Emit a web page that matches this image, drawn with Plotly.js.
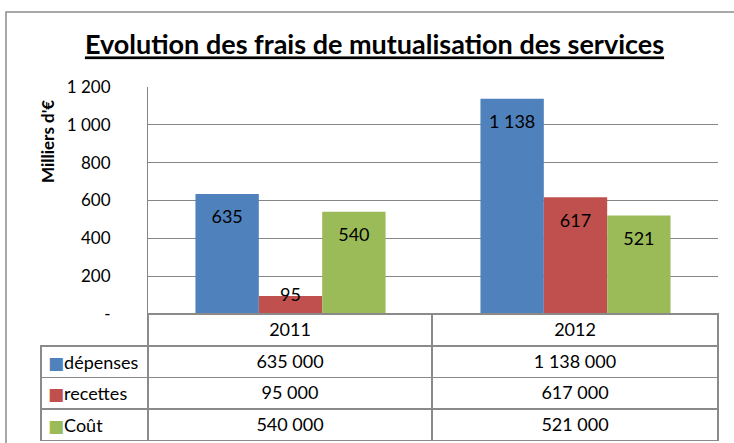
<!DOCTYPE html>
<html>
<head>
<meta charset="utf-8">
<script src="https://cdn.plot.ly/plotly-3.0.1.min.js"></script>
<style>
  html, body { margin: 0; padding: 0; background: #ffffff; }
  #chart { width: 734px; height: 443px; }
</style>
</head>
<body>
<div id="chart"></div>
<script>
// ---- Data (in milliers d'€) ----
const categories = ['2011', '2012'];
const seriesNames = ['dépenses', 'recettes', 'Coût'];
const depenses = [635, 1138];
const recettes = [95, 617];
const cout = [540, 521];
const yTickVals = [0, 200, 400, 600, 800, 1000, 1200];
const yTickText = ['-', '200', '400', '600', '800', '1 000', '1 200'];

// ---- Styling ----
const seriesColors = ['#4F81BD', '#C0504D', '#9BBB59'];
const FONT = 'Lato, "Open Sans", "DejaVu Sans", sans-serif';
const GRID = '#868686';
const BORDER = '#8a8a8a';
const H = 443, W = 734;
const PLOT_TOP = 87, PLOT_BOTTOM = 314, PLOT_LEFT = 148, PLOT_RIGHT = 718;
const TABLE_LEFT = 41, HEADER_H = 32, CELL_H = 31.5;

const seriesValues = [depenses, recettes, cout];

function fmtThousands(v) {
  return String(Math.round(v * 1000)).replace(/\B(?=(\d{3})+(?!\d))/g, ' ');
}

const barTraces = seriesNames.map((name, i) => ({
  type: 'bar',
  name: name,
  x: categories,
  y: seriesValues[i],
  marker: { color: seriesColors[i], line: { width: 0 } },
  hoverinfo: 'skip',
  showlegend: false
}));

// Data labels ("inside end"), aligned with the grouped bars
const labelTraces = seriesNames.map((name, i) => ({
  type: 'scatter',
  mode: 'markers+text',
  name: name + ' labels',
  x: categories,
  y: seriesValues[i],
  text: seriesValues[i],
  texttemplate: '%{y:,}',
  textposition: seriesValues[i].map(v => (v < 150 ? 'middle center' : 'bottom center')),
  textfont: { family: FONT, size: 18, color: '#000000' },
  marker: { size: 24, opacity: 0, color: seriesColors[i] },
  cliponaxis: false,
  hoverinfo: 'skip',
  showlegend: false
}));

// Data table under the chart
const yearCols = categories.map((c, j) => seriesValues.map(s => fmtThousands(s[j])));

const tableTrace = {
  type: 'table',
  domain: { x: [TABLE_LEFT / W, PLOT_RIGHT / W], y: [0, (H - PLOT_BOTTOM) / H] },
  columnwidth: [PLOT_LEFT - TABLE_LEFT, 284, 286],
  header: {
    values: [''].concat(categories),
    align: ['left', 'center', 'center'],
    height: HEADER_H,
    fill: { color: ['rgba(0,0,0,0)', '#ffffff', '#ffffff'] },
    line: { color: ['rgba(0,0,0,0)', BORDER, BORDER], width: 1.3 },
    font: { family: FONT, size: 18, color: '#000000' }
  },
  cells: {
    values: [seriesNames.map(() => '')].concat(yearCols),
    align: ['left', 'center', 'center'],
    height: CELL_H,
    fill: { color: '#ffffff' },
    line: { color: BORDER, width: 1.3 },
    font: { family: FONT, size: 18, color: '#000000' }
  }
};

// Legend keys inside the first column of the table
const legendAnnotations = seriesNames.map((n, i) => ({
  text: '<span style="color:' + seriesColors[i] + ';font-size:17px">■</span>' + n,
  xref: 'paper', yref: 'paper',
  x: (TABLE_LEFT + 5) / W,
  y: (H - (PLOT_BOTTOM + HEADER_H + (i + 0.5) * CELL_H)) / H,
  xanchor: 'left', yanchor: 'middle',
  showarrow: false,
  font: { family: FONT, size: 18, color: '#000000' }
}));

const layout = {
  width: W,
  height: H,
  margin: { l: 0, r: 0, t: 0, b: 0 },
  paper_bgcolor: '#ffffff',
  plot_bgcolor: '#ffffff',
  separators: ', ',
  font: { family: FONT, size: 17, color: '#000000' },
  barmode: 'group',
  bargap: 0.333,
  bargroupgap: 0,
  scattermode: 'group',
  scattergap: 0.333,
  title: {
    text: '<b><u>Evolution des frais de mutualisation des services</u></b>',
    font: { family: FONT, size: 27, color: '#000000' },
    x: 374.5 / W,
    xanchor: 'center',
    xref: 'paper',
    y: (H - 45) / H,
    yanchor: 'middle',
    yref: 'paper'
  },
  xaxis: {
    domain: [PLOT_LEFT / W, PLOT_RIGHT / W],
    type: 'category',
    showticklabels: false,
    showgrid: false,
    zeroline: false,
    showline: false,
    ticks: ''
  },
  yaxis: {
    domain: [(H - PLOT_BOTTOM) / H, (H - PLOT_TOP) / H],
    range: [0, 1200],
    tickvals: yTickVals,
    ticktext: yTickText,
    tickfont: { family: FONT, size: 17, color: '#000000' },
    showgrid: true,
    gridcolor: GRID,
    gridwidth: 1,
    zeroline: false,
    showline: true,
    linecolor: GRID,
    linewidth: 1,
    ticks: '',
    ticklabelstandoff: 33
  },
  annotations: [{
    text: "<b>Milliers d'€</b>",
    textangle: -90,
    xref: 'paper', yref: 'paper',
    x: 47 / W, y: (H - 142) / H,
    xanchor: 'center', yanchor: 'middle',
    showarrow: false,
    font: { family: FONT, size: 17, color: '#000000' }
  }].concat(legendAnnotations),
  shapes: [{
    type: 'rect',
    xref: 'paper', yref: 'paper',
    x0: 6 / W, x1: 1.05,
    y0: -0.05, y1: (H - 12) / H,
    line: { color: '#8c8c8c', width: 1.5 },
    fillcolor: 'rgba(0,0,0,0)',
    layer: 'below'
  }]
};

Plotly.newPlot('chart', barTraces.concat(labelTraces, [tableTrace]), layout, { displayModeBar: false, staticPlot: true });
</script>
</body>
</html>
